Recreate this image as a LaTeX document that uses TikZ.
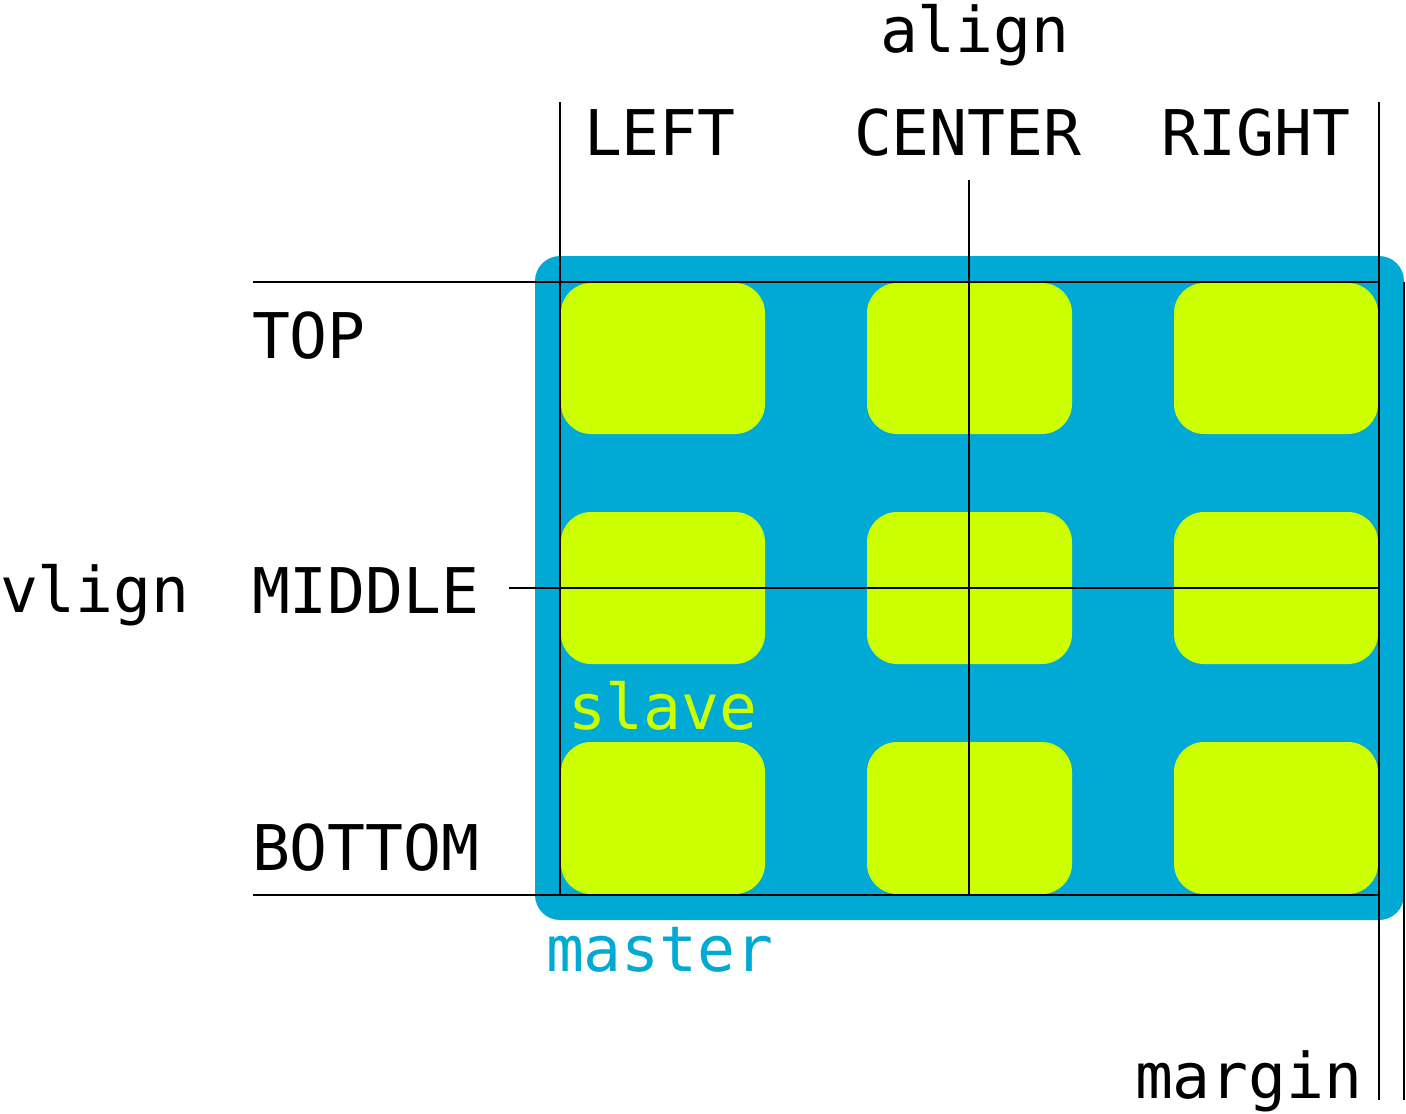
\documentclass[tikz,border=0pt]{standalone}
\usepackage{fontspec}
\setmainfont{DejaVu Sans Mono}
\definecolor{masterblue}{HTML}{00AAD4}
\definecolor{slavegreen}{HTML}{CCFF00}
\begin{document}
\begin{tikzpicture}[x=1pt,y=-1pt,
  lbl/.style={inner sep=0pt,outer sep=0pt,anchor=base west,font=\fontsize{63}{68}\selectfont},
  guide/.style={draw=black,line width=2.6pt}]
\useasboundingbox (0,0) rectangle (1406,1114);
% master
\fill[masterblue,rounded corners=25pt] (535,256) rectangle (1404,920);
% slaves
\foreach \x/\xx in {561/765,867/1072,1174/1378}{
  \foreach \y/\yy in {283/434,512/664,742/894}{
    \fill[slavegreen,rounded corners=30pt] (\x,\y) rectangle (\xx,\yy);
  }
}
% coordinates for guides
\coordinate (l1) at (560,102);   \coordinate (l2) at (560,895);
\coordinate (c1) at (969,180);   \coordinate (c2) at (969,895);
\coordinate (r1) at (1379,102);  \coordinate (r2) at (1379,1100);
\coordinate (m1) at (1404,282);  \coordinate (m2) at (1404,1100);
\coordinate (t1) at (253,282);   \coordinate (t2) at (1379,282);
\coordinate (d1) at (509,588);   \coordinate (d2) at (1379,588);
\coordinate (b1) at (253,895);   \coordinate (b2) at (1379,895);
\draw[guide] (l1) -- (l2);
\draw[guide] (c1) -- (c2);
\draw[guide] (r1) -- (r2);
\draw[guide] (m1) -- (m2);
\draw[guide] (t1) -- (t2);
\draw[guide] (d1) -- (d2);
\draw[guide] (b1) -- (b2);
% labels
\node[lbl] (align) at (880,52) {align};
\node[lbl] (left) at (584,155) {LEFT};
\node[lbl] (center) at (854,155) {CENTER};
\node[lbl] (right) at (1161,155) {RIGHT};
\node[lbl] (top) at (252,358) {TOP};
\node[lbl] (vlign) at (0,612) {vlign};
\node[lbl] (middle) at (252,613) {MIDDLE};
\node[lbl] (bottom) at (252,870) {BOTTOM};
\node[lbl,text=slavegreen] (slave) at (568,729) {slave};
\node[lbl,text=masterblue] (master) at (546,971) {master};
\node[lbl] (margin) at (1135,1098) {margin};
\end{tikzpicture}
\end{document}
